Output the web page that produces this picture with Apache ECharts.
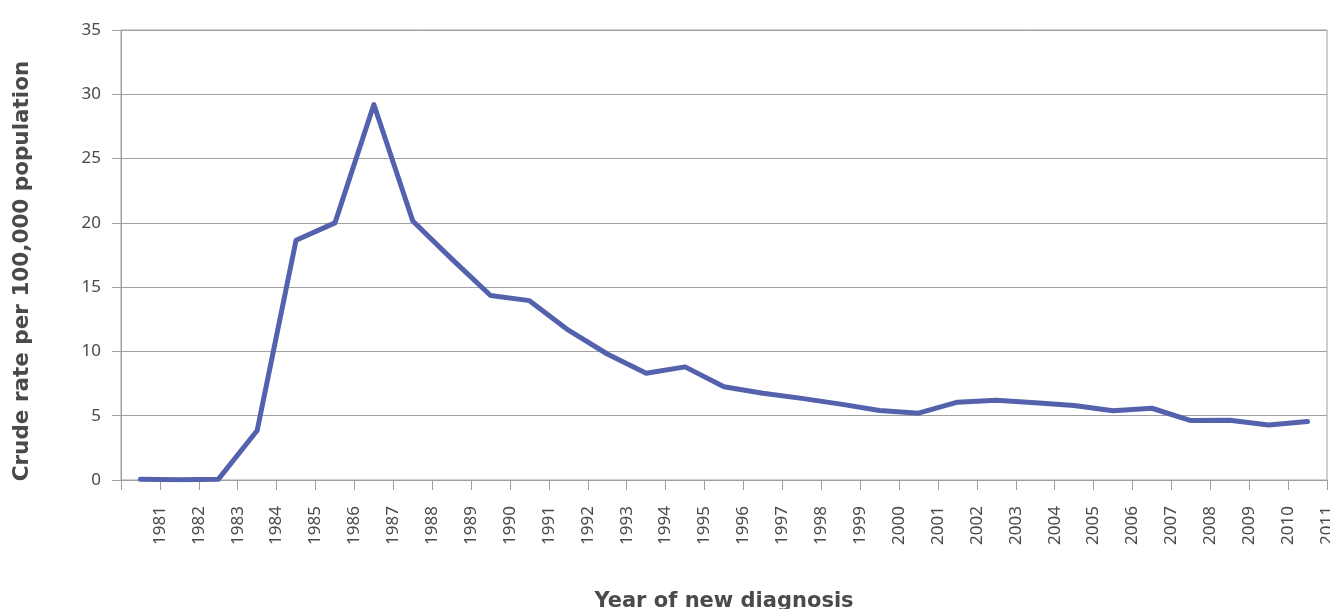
<!DOCTYPE html>
<html lang="en">
<head>
    <meta charset="UTF-8">
    <title>Crude rate</title>
    <script type="text/javascript" src="https://cdn.jsdelivr.net/npm/echarts@6/dist/echarts.min.js"></script>
    <style>
        html, body { margin: 0; padding: 0; background: #fff; }
    </style>
</head>
<body>
<div id="main" style="width: 1330px;height:609px"></div>
<script type="text/javascript">
    var years = ['1981','1982','1983','1984','1985','1986','1987','1988','1989','1990',
        '1991','1992','1993','1994','1995','1996','1997','1998','1999','2000',
        '2001','2002','2003','2004','2005','2006','2007','2008','2009','2010','2011'];
    var rates = [0.05, 0.02, 0.05, 3.85, 18.65, 20.0, 29.2, 20.15, 17.2, 14.35,
        13.95, 11.65, 9.8, 8.3, 8.8, 7.25, 6.75, 6.35, 5.9, 5.4,
        5.2, 6.05, 6.2, 6.0, 5.8, 5.38, 5.58, 4.62, 4.65, 4.28, 4.55];
    // tick labels sit on the band edges, so the label axis has one extra slot
    var tickLabels = [''].concat(years);

    var chartDom = document.getElementById('main');
    var myChart = echarts.init(chartDom);
    var textColor = '#4a4a4a';
    var gridColor = '#a0a0a0';

    var option = {
        animation: false,
        grid: {
            left: 121,
            right: 3,
            top: 30,
            bottom: 129,
            containLabel: false,
            outerBoundsMode: 'none',
            show: true,
            borderColor: gridColor,
            borderWidth: 1
        },
        xAxis: [
            {
                type: 'category',
                data: years,
                boundaryGap: true,
                show: false
            },
            {
                type: 'category',
                data: tickLabels,
                boundaryGap: false,
                position: 'bottom',
                name: 'Year of new diagnosis',
                nameLocation: 'middle',
                nameGap: 111,
                nameTextStyle: {
                    fontFamily: 'DejaVu Sans',
                    fontSize: 21,
                    fontWeight: 'bold',
                    color: textColor
                },
                axisLine: { lineStyle: { color: gridColor } },
                axisTick: { show: true, length: 10, interval: 0, lineStyle: { color: gridColor } },
                axisLabel: {
                    interval: 0,
                    rotate: 90,
                    margin: 26,
                    fontFamily: 'Noto Sans',
                    fontSize: 17,
                    color: textColor
                }
            }
        ],
        yAxis: {
            type: 'value',
            min: 0,
            max: 35,
            interval: 5,
            name: 'Crude rate per 100,000 population',
            nameLocation: 'middle',
            nameGap: 88,
            nameTextStyle: {
                fontFamily: 'DejaVu Sans',
                fontSize: 21.5,
                fontWeight: 'bold',
                color: textColor,
                padding: [0, 32, 0, 0]
            },
            axisLine: { show: true, lineStyle: { color: gridColor } },
            axisTick: { show: true, length: 9, lineStyle: { color: gridColor } },
            axisLabel: {
                margin: 20,
                fontFamily: 'Noto Sans',
                fontSize: 17,
                color: textColor
            },
            splitLine: { lineStyle: { color: gridColor } }
        },
        series: [
            {
                type: 'line',
                xAxisIndex: 0,
                data: rates,
                symbol: 'none',
                lineStyle: { color: '#5461AD', width: 5, join: 'round', cap: 'round' }
            }
        ]
    };

    option && myChart.setOption(option);
</script>
</body>
</html>
